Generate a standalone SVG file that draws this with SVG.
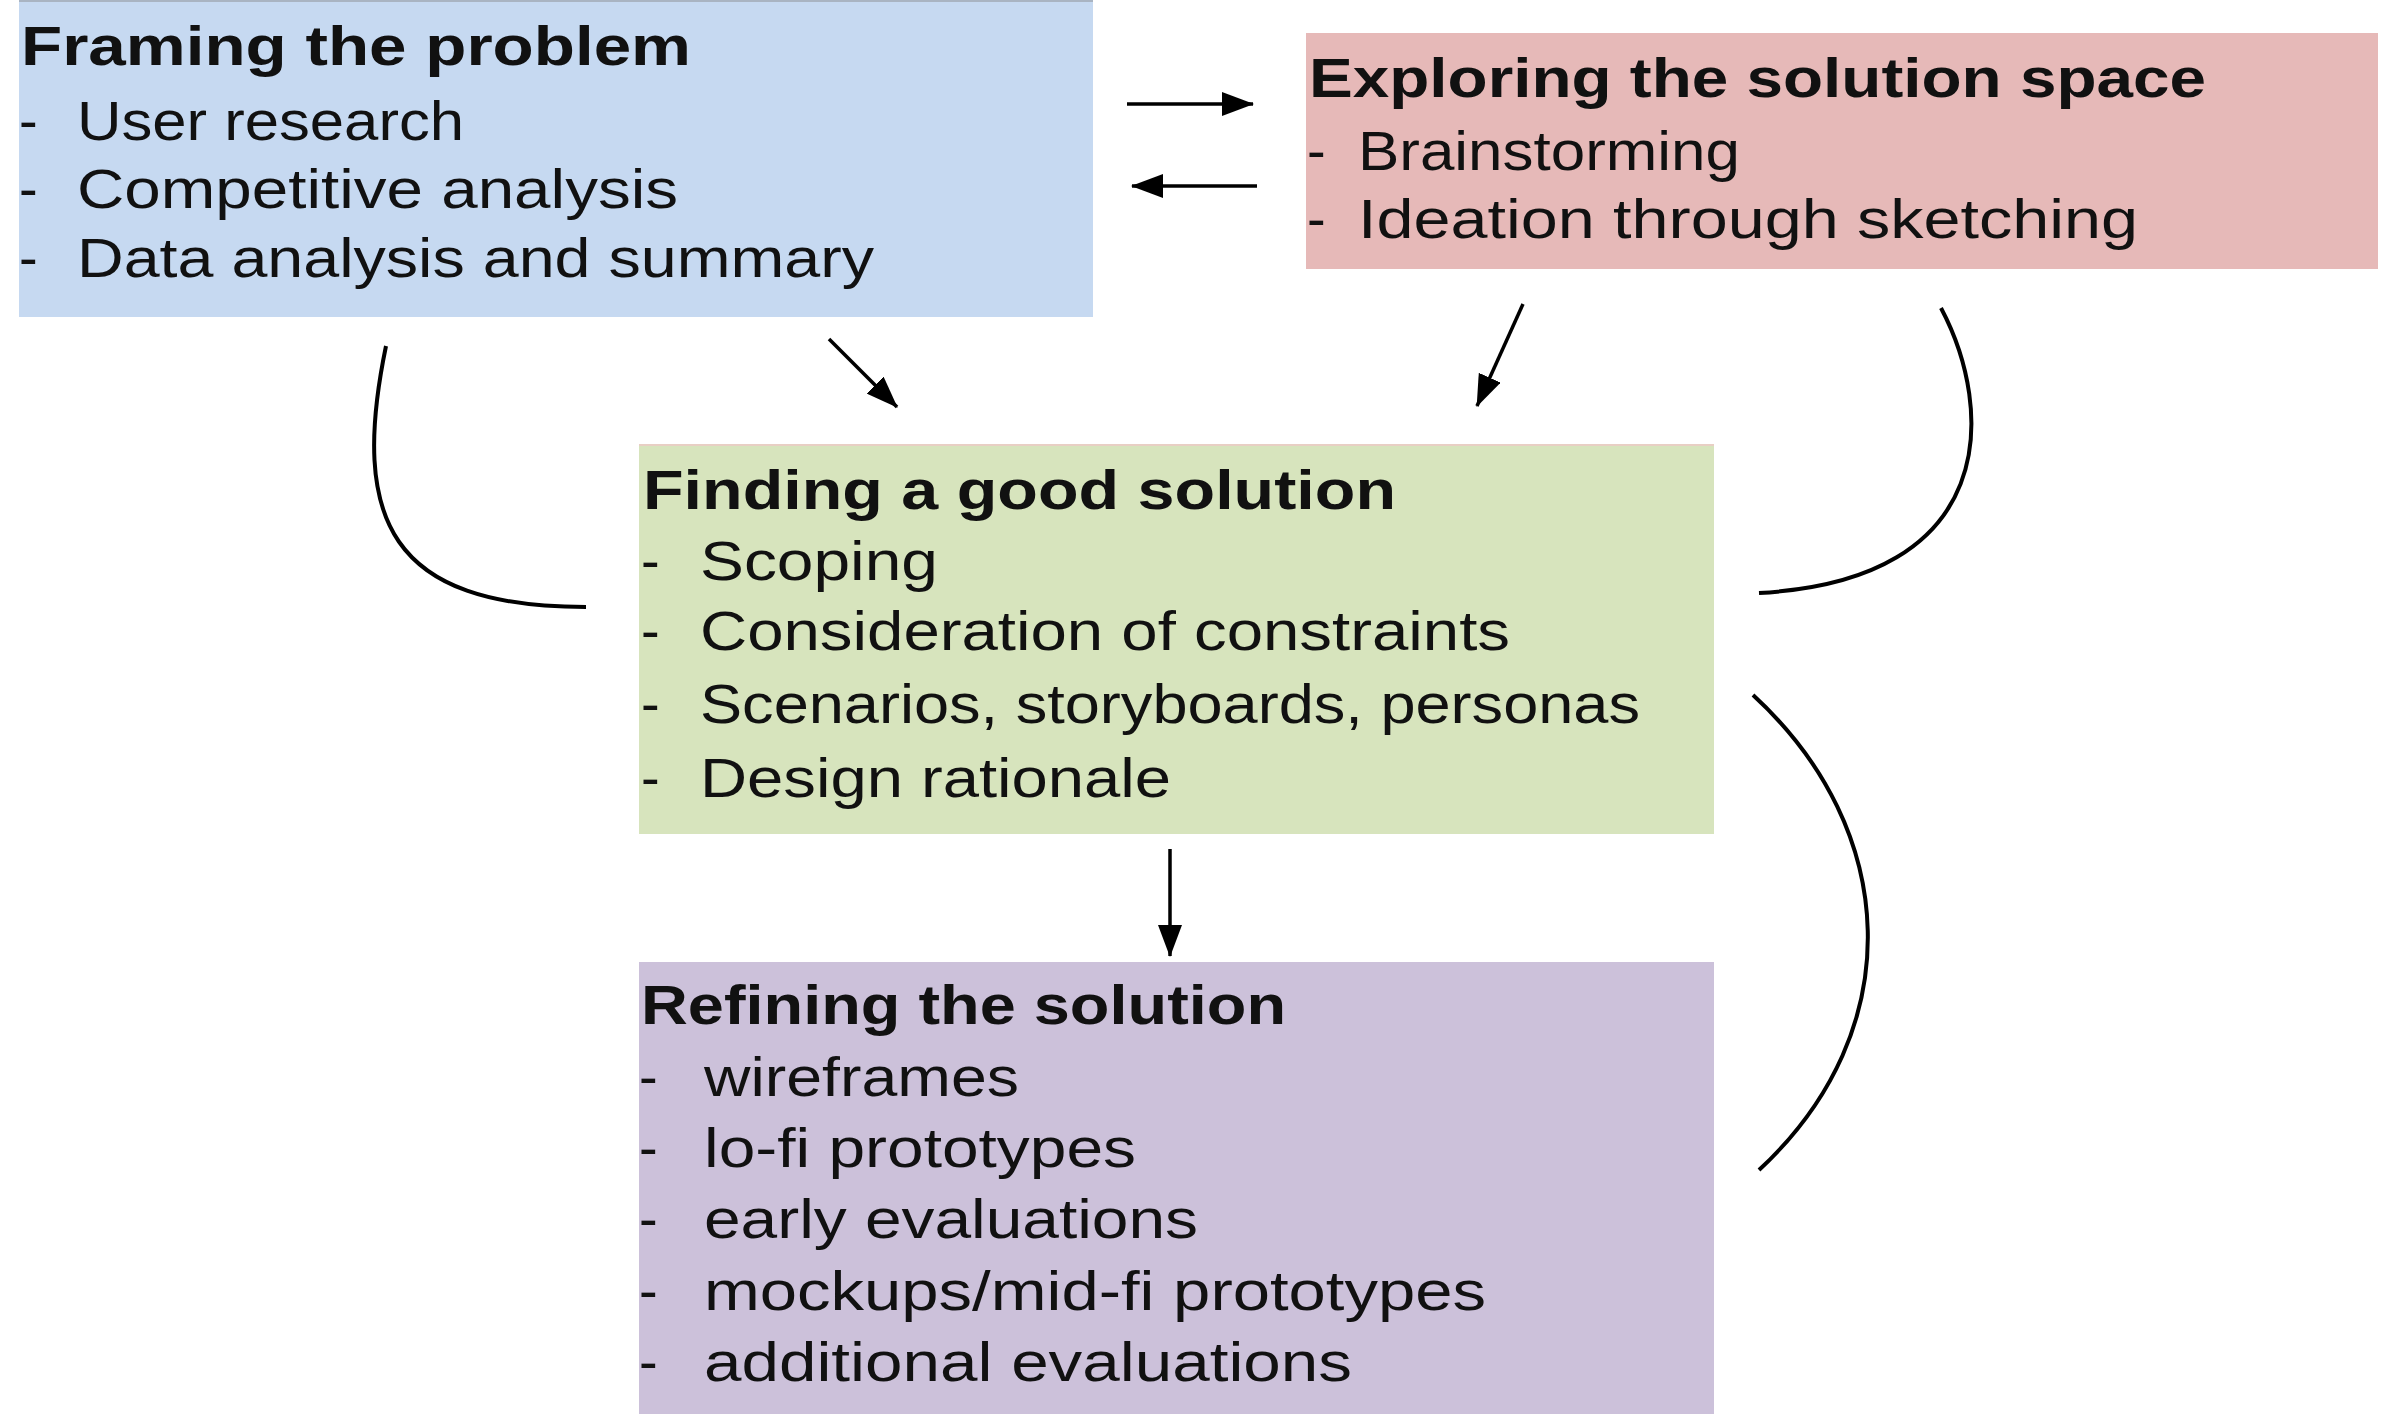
<svg xmlns="http://www.w3.org/2000/svg" width="2386" height="1414" viewBox="0 0 2386 1414">
<style>
text{font-family:"Liberation Sans",Arial,sans-serif;font-size:56px;fill:#111}
.h{font-weight:bold}
.edge{fill:none;stroke:#000;stroke-width:3.5}
.curve{fill:none;stroke:#000;stroke-width:4}
</style>
<defs>
<marker id="ah" markerUnits="userSpaceOnUse" markerWidth="32" markerHeight="24" refX="31" refY="12" orient="auto">
<path d="M0,0 L32,12 L0,24 Z" fill="#000"/>
</marker>
</defs>
<rect width="2386" height="1414" fill="#fff"/>

<g id="framing">
<rect x="19" y="0" width="1074" height="317" fill="#C6D9F1"/>
<line x1="19" y1="1" x2="1093" y2="1" stroke="#A9B4C2" stroke-width="2"/>
<text class="h" x="21" y="65" textLength="670" lengthAdjust="spacingAndGlyphs">Framing the problem</text>
<text x="19" y="140">-</text><text x="77" y="140" textLength="387" lengthAdjust="spacingAndGlyphs">User research</text>
<text x="19" y="208">-</text><text x="77" y="208" textLength="601" lengthAdjust="spacingAndGlyphs">Competitive analysis</text>
<text x="19" y="277">-</text><text x="77" y="277" textLength="797" lengthAdjust="spacingAndGlyphs">Data analysis and summary</text>
</g>

<g id="exploring">
<rect x="1306" y="33" width="1072" height="236" fill="#E6B9B8"/>
<text class="h" x="1309" y="97" textLength="897" lengthAdjust="spacingAndGlyphs">Exploring the solution space</text>
<text x="1307" y="170">-</text><text x="1358" y="170" textLength="382" lengthAdjust="spacingAndGlyphs">Brainstorming</text>
<text x="1307" y="238">-</text><text x="1358" y="238" textLength="780" lengthAdjust="spacingAndGlyphs">Ideation through sketching</text>
</g>

<g id="finding">
<rect x="639" y="444" width="1075" height="390" fill="#D7E4BD"/>
<line x1="639" y1="445" x2="1714" y2="445" stroke="#E8CFC4" stroke-width="2"/>
<text class="h" x="643" y="509" textLength="753" lengthAdjust="spacingAndGlyphs">Finding a good solution</text>
<text x="641" y="580">-</text><text x="700" y="580" textLength="238" lengthAdjust="spacingAndGlyphs">Scoping</text>
<text x="641" y="650">-</text><text x="700" y="650" textLength="810" lengthAdjust="spacingAndGlyphs">Consideration of constraints</text>
<text x="641" y="723">-</text><text x="700" y="723" textLength="940" lengthAdjust="spacingAndGlyphs">Scenarios, storyboards, personas</text>
<text x="641" y="797">-</text><text x="700" y="797" textLength="471" lengthAdjust="spacingAndGlyphs">Design rationale</text>
</g>

<g id="refining">
<rect x="639" y="962" width="1075" height="452" fill="#CCC1DA"/>
<text class="h" x="641" y="1024" textLength="645" lengthAdjust="spacingAndGlyphs">Refining the solution</text>
<text x="639" y="1096">-</text><text x="704" y="1096" textLength="315" lengthAdjust="spacingAndGlyphs">wireframes</text>
<text x="639" y="1167">-</text><text x="704" y="1167" textLength="432" lengthAdjust="spacingAndGlyphs">lo-fi prototypes</text>
<text x="639" y="1238">-</text><text x="704" y="1238" textLength="494" lengthAdjust="spacingAndGlyphs">early evaluations</text>
<text x="639" y="1310">-</text><text x="704" y="1310" textLength="782" lengthAdjust="spacingAndGlyphs">mockups/mid-fi prototypes</text>
<text x="639" y="1381">-</text><text x="704" y="1381" textLength="648" lengthAdjust="spacingAndGlyphs">additional evaluations</text>
</g>

<g id="connectors">
<line class="edge" x1="1127" y1="104" x2="1253" y2="104" marker-end="url(#ah)" stroke-width="4.5"/>
<line class="edge" x1="1257" y1="186" x2="1132" y2="186" marker-end="url(#ah)" stroke-width="4.5"/>
<line class="edge" x1="829" y1="339" x2="897" y2="407" marker-end="url(#ah)"/>
<line class="edge" x1="1523" y1="304" x2="1477" y2="406" marker-end="url(#ah)"/>
<line class="edge" x1="1170" y1="849" x2="1170" y2="956" marker-end="url(#ah)"/>
<path class="curve" d="M386,346 C350,520 390,607 586,607"/>
<path class="curve" d="M1941,308 C1995,410 2000,580 1759,593"/>
<path class="curve" d="M1753,695 C1900,830 1910,1030 1759,1170"/>
</g>
</svg>
